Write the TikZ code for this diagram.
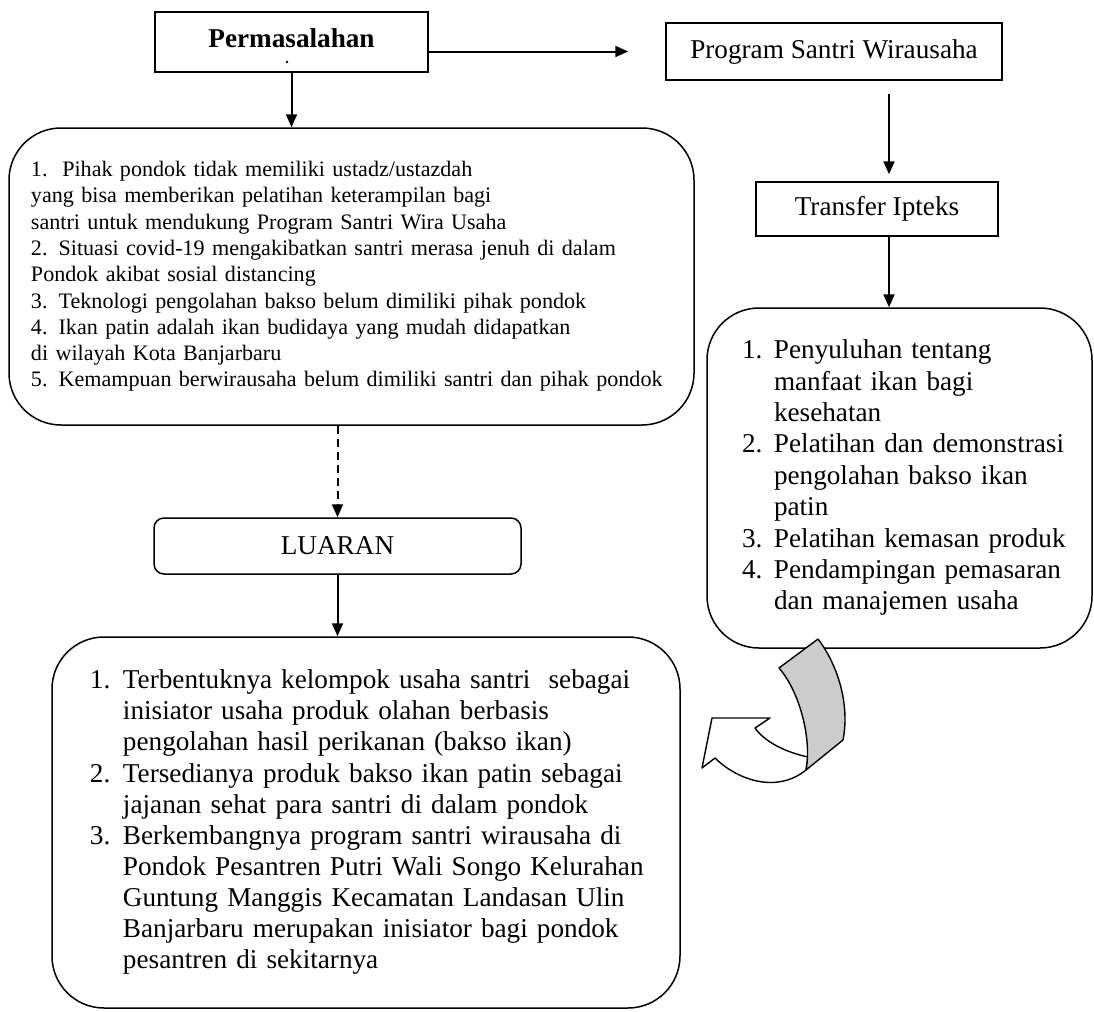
\documentclass[tikz,border=0pt]{standalone}
\usepackage{fontspec}
\setmainfont{Liberation Serif}
\usepackage{array}
\usetikzlibrary{arrows}
\usetikzlibrary{arrows.meta}

\begin{document}
\begin{tikzpicture}[x=0.5pt,y=-0.5pt,>={Triangle[length=6.5pt,width=5.5pt]},
	font=\fontsize{13.6pt}{15.6pt}\selectfont,
	kotak/.style={draw,line width=0.75pt,inner sep=2pt},
	bulat/.style={draw,line width=0.75pt,rounded corners=26pt,inner ysep=2pt,align=left},
	panah/.style={->,line width=1pt}]
	\useasboundingbox (0,0) rectangle (1094,1012);

	\node[kotak,minimum width=136.5pt,minimum height=30pt,text depth=4pt] (masalah) at (291.5,42) {\textbf{Permasalahan}};
	\coordinate (titik) at (287,62);
	\fill (titik) circle (0.7pt);
	\node[kotak,minimum width=168pt,minimum height=28.5pt] (program) at (834,51.5) {Program Santri Wirausaha};
	\node[kotak,minimum width=121pt,minimum height=27pt] (transfer) at (877,209) {Transfer Ipteks};

	\node[bulat,text width=320.5pt,inner xsep=11pt,minimum height=148.5pt,
		font=\fontsize{11.05pt}{13.15pt}\selectfont] (daftarmasalah) at (351.5,276.5) {%
		\begin{tabular}{@{}l@{}}
		1.\ \ Pihak pondok tidak memiliki ustadz/ustazdah\\
		yang bisa memberikan pelatihan keterampilan bagi\\
		santri untuk mendukung Program Santri Wira Usaha\\
		2. Situasi covid-19 mengakibatkan santri merasa jenuh di dalam\\
		Pondok akibat sosial distancing\\
		3. Teknologi pengolahan bakso belum dimiliki pihak pondok\\
		4. Ikan patin adalah ikan budidaya yang mudah didapatkan\\
		di wilayah Kota Banjarbaru\\
		5. Kemampuan berwirausaha belum dimiliki santri dan pihak pondok
		\end{tabular}};

	\node[kotak,rounded corners=5pt,minimum width=183.5pt,minimum height=28pt] (luaran) at (337.5,546) {LUARAN};

	\node[bulat,text width=157.5pt,inner xsep=17.5pt,minimum height=170pt,
		font=\fontsize{13.6pt}{15.7pt}\selectfont] (kegiatan) at (899.5,478) {%
		\begin{tabular}{@{}p{16pt}@{}l@{}}
		1. & Penyuluhan tentang\\
		   & manfaat ikan bagi\\
		   & kesehatan\\
		2. & Pelatihan dan demonstrasi\\
		   & pengolahan bakso ikan\\
		   & patin\\
		3. & Pelatihan kemasan produk\\
		4. & Pendampingan pemasaran\\
		   & dan manajemen usaha
		\end{tabular}};

	\node[bulat,text width=276pt,inner xsep=19pt,minimum height=185.5pt,
		font=\fontsize{13.6pt}{15.55pt}\selectfont] (hasil) at (366,822.5) {%
		\begin{tabular}{@{}p{16.5pt}@{}l@{}}
		1. & Terbentuknya kelompok usaha santri\ \ sebagai\\
		   & inisiator usaha produk olahan berbasis\\
		   & pengolahan hasil perikanan (bakso ikan)\\
		2. & Tersedianya produk bakso ikan patin sebagai\\
		   & jajanan sehat para santri di dalam pondok\\
		3. & Berkembangnya program santri wirausaha di\\
		   & Pondok Pesantren Putri Wali Songo Kelurahan\\
		   & Guntung Manggis Kecamatan Landasan Ulin\\
		   & Banjarbaru merupakan inisiator bagi pondok\\
		   & pesantren di sekitarnya
		\end{tabular}};

	% panah antar kotak
	\draw[panah] (masalah.south) -- (masalah.south |- daftarmasalah.north);
	\draw[panah,shorten >=18.5pt] (masalah.east |- program.west) -- (program.west);
	\draw[panah,shorten <=6.5pt,shorten >=3.5pt] ([xshift=27.5pt]program.south) -- ([xshift=6pt]transfer.north);
	\draw[panah] ([xshift=6pt]transfer.south) -- ([xshift=6pt]transfer.south |- kegiatan.north);
	\draw[panah,dash pattern=on 4pt off 2.5pt] (luaran.north |- daftarmasalah.south) -- (luaran.north);
	\draw[panah] (luaran.south) -- (luaran.south |- hasil.north);

	% panah lengkung
	\filldraw[fill=white,line width=0.7pt,line join=round] (808,757) .. controls (785,752) and (765,742) .. (755,728)
		-- (770,718) -- (712,718) -- (702,768) -- (715,758)
		.. controls (735,778) and (775,795) .. (806,770) -- cycle;
	\filldraw[fill=gray!40,line width=0.7pt,line join=round] (779,668) -- (818,639)
		.. controls (838,665) and (850,705) .. (843,740) -- (806,770)
		.. controls (812,740) and (800,692) .. (779,668) -- cycle;
\end{tikzpicture}
\end{document}
